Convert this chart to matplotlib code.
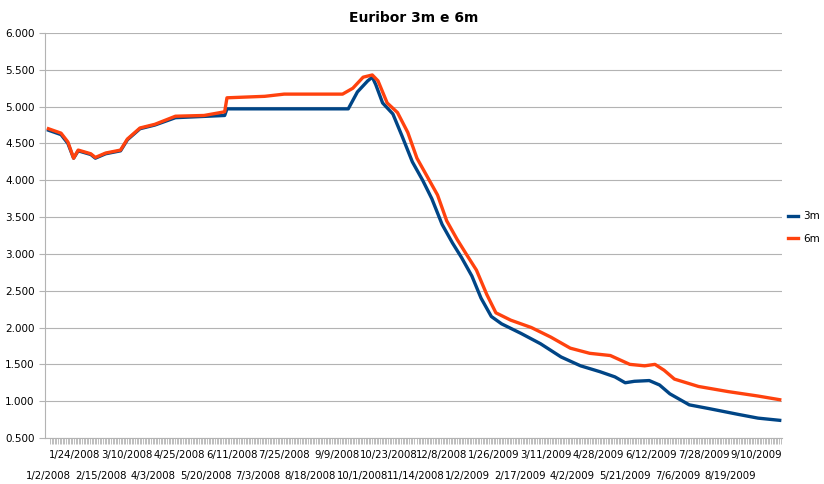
import matplotlib
matplotlib.use("Agg")
import matplotlib.pyplot as plt
import matplotlib.ticker as mticker
import pandas as pd

# values: days since 1/2/2008, rate
start = pd.Timestamp("2008-01-02")
days_3m = [0, 11, 17, 22, 26, 37, 41, 50, 63, 69, 80, 93, 111, 154, 156, 262, 270, 279, 283, 286,
           292, 301, 309, 318, 327, 335, 344, 353, 361, 370, 378, 387, 396, 413, 430, 448, 465,
           482, 495, 504, 512, 525, 534, 543, 560, 577, 603, 620, 639]
rate_3m = [4.68, 4.62, 4.50, 4.30, 4.40, 4.35, 4.30, 4.36, 4.40, 4.55, 4.70, 4.75, 4.85, 4.88, 4.97,
           4.97, 5.20, 5.35, 5.40, 5.30, 5.05, 4.90, 4.60, 4.25, 4.00, 3.75, 3.40, 3.15, 2.95, 2.70,
           2.40, 2.15, 2.05, 1.92, 1.78, 1.60, 1.48, 1.40, 1.33, 1.25, 1.27, 1.28, 1.22, 1.10, 0.95,
           0.90, 0.82, 0.77, 0.74]
days_6m = [0, 11, 17, 22, 26, 37, 41, 50, 63, 69, 80, 93, 111, 136, 154, 156, 189, 206, 257, 266,
           275, 283, 288, 296, 305, 314, 322, 331, 340, 348, 357, 365, 374, 383, 391, 404, 422, 439,
           456, 473, 491, 508, 521, 530, 538, 547, 568, 594, 620, 639]
rate_6m = [4.70, 4.64, 4.52, 4.30, 4.41, 4.36, 4.31, 4.37, 4.41, 4.56, 4.71, 4.76, 4.87, 4.88, 4.93,
           5.12, 5.14, 5.17, 5.17, 5.25, 5.40, 5.43, 5.35, 5.05, 4.92, 4.65, 4.30, 4.05, 3.80, 3.45,
           3.20, 3.00, 2.78, 2.45, 2.20, 2.10, 2.00, 1.87, 1.72, 1.65, 1.62, 1.50, 1.48, 1.50, 1.42,
           1.30, 1.20, 1.13, 1.07, 1.02]
tick_labels = ["1/2/2008", "1/24/2008", "2/15/2008", "3/10/2008", "4/3/2008", "4/25/2008",
               "5/20/2008", "6/11/2008", "7/3/2008", "7/25/2008", "8/18/2008", "9/9/2008",
               "10/1/2008", "10/23/2008", "11/14/2008", "12/8/2008", "1/2/2009", "1/26/2009",
               "2/17/2009", "3/11/2009", "4/2/2009", "4/28/2009", "5/21/2009", "6/12/2009",
               "7/6/2009", "7/28/2009", "8/19/2009", "9/10/2009"]

d3 = [start + pd.Timedelta(days=d) for d in days_3m]
d6 = [start + pd.Timedelta(days=d) for d in days_6m]
# category axis: labels sit every 16 points, evenly spaced
step = 22.9
ticks = [start + pd.Timedelta(days=i * step) for i in range(len(tick_labels))]

fig = plt.figure(figsize=(8.24, 4.84), dpi=100)
ax = fig.add_axes([45 / 824, 1 - 438 / 484, 737 / 824, 405 / 484])
ax.plot(d3, rate_3m, color="#004586", lw=2.4, label="3m")
ax.plot(d6, rate_6m, color="#ff420e", lw=2.4, label="6m")

ax.set_ylim(0.5, 6.0)
ax.set_yticks([0.5 + 0.5 * i for i in range(12)])
ax.yaxis.set_major_formatter(mticker.FuncFormatter(lambda v, p: f"{v:.3f}"))
ax.grid(axis="y", color="#b3b3b3", lw=0.8)
ax.set_axisbelow(True)
ax.set_xlim(start + pd.Timedelta(days=-3), start + pd.Timedelta(days=641))
ax.set_xticks(ticks)
ax.set_xticklabels(tick_labels)
for i, lab in enumerate(ax.get_xticklabels()):
    lab.set_y(-0.055 if i % 2 == 0 else -0.002)
ax.set_xticks(pd.bdate_range(start, start + pd.Timedelta(days=641), freq="1.4D"), minor=True)
ax.tick_params(axis="x", which="minor", length=4, color="#b3b3b3", width=0.6)
ax.tick_params(axis="x", which="major", length=0, labelsize=7.3, pad=8)
ax.tick_params(axis="y", length=4, color="#b3b3b3", labelsize=7.5)
for s in ["top", "right"]:
    ax.spines[s].set_visible(False)
for s in ["left", "bottom"]:
    ax.spines[s].set_color("#b3b3b3")

ax.set_title("Euribor 3m e 6m", fontsize=10, fontweight="bold", pad=8)
ax.legend(loc="center left", bbox_to_anchor=(0.995, 0.52), frameon=False, fontsize=7.5,
          handlelength=1.0, handletextpad=0.5, labelspacing=1.2)
fig.savefig("out.png", dpi=100)
